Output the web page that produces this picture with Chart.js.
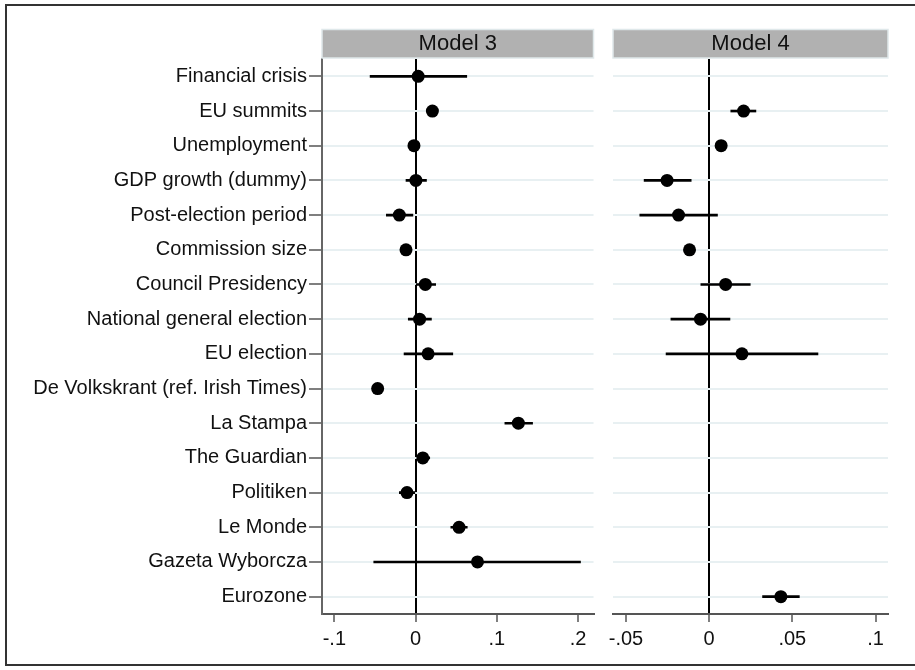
<!DOCTYPE html>
<html>
<head>
<meta charset="utf-8">
<script src="https://cdn.jsdelivr.net/npm/chart.js@4.4.0/dist/chart.umd.min.js"></script>
<style>
  body { margin: 0; background: #fff; }
  #wrap { position: relative; width: 915px; height: 670px; overflow: hidden; }
  #frame { position: absolute; left: 5px; top: 4px; width: 930px; height: 662px; border: 2px solid #333; box-sizing: border-box; }
  #c3 { position: absolute; left: 0; top: 0; }
  #c4 { position: absolute; left: 600px; top: 0; }
</style>
</head>
<body>
<div id="wrap">
  <div id="frame"></div>
  <canvas id="c3" width="600" height="670"></canvas>
  <canvas id="c4" width="315" height="670"></canvas>
</div>
<script>
const variables = [
    'Financial crisis', 'EU summits', 'Unemployment', 'GDP growth (dummy)',
    'Post-election period', 'Commission size', 'Council Presidency',
    'National general election', 'EU election', 'De Volkskrant (ref. Irish Times)',
    'La Stampa', 'The Guardian', 'Politiken', 'Le Monde', 'Gazeta Wyborcza', 'Eurozone'
];

// Model 3 estimates and 95% CI bounds
const m3Coef = [0.0032, 0.0207, -0.002, 0.0004, -0.020, -0.0118, 0.012, 0.0049, 0.0154, -0.0467, 0.1265, 0.0089, -0.0106, 0.0535, 0.0762, null];
const m3Low  = [-0.056, 0.0175, -0.005, -0.0118, -0.036, -0.0145, 0.0008, -0.009, -0.0142, -0.0495, 0.1099, 0.003, -0.020, 0.0434, -0.0515, null];
const m3High = [0.063, 0.024, 0.001, 0.0134, -0.0033, -0.009, 0.0247, 0.0195, 0.0458, -0.044, 0.144, 0.0174, -0.001, 0.0636, 0.203, null];

// Model 4 estimates and 95% CI bounds
const m4Coef = [null, 0.0207, 0.0072, -0.0253, -0.0184, -0.0118, 0.0099, -0.0052, 0.0197, null, null, null, null, null, null, 0.0431];
const m4Low  = [null, 0.013, 0.0055, -0.0391, -0.0417, -0.0135, -0.005, -0.023, -0.0259, null, null, null, null, null, null, 0.0321];
const m4High = [null, 0.0281, 0.009, -0.0108, 0.005, -0.010, 0.0247, 0.0125, 0.0654, null, null, null, null, null, null, 0.0542];

const m3Ticks = [-0.1, 0, 0.1, 0.2];
const m3TickLabels = ['-.1', '0', '.1', '.2'];
const m4Ticks = [-0.05, 0, 0.05, 0.1];
const m4TickLabels = ['-.05', '0', '.05', '.1'];

const FONT = 'Liberation Sans, Arial, sans-serif';

// gray strip with the model name above the plot area
const stripPlugin = {
    id: 'strip',
    afterDraw(chart, args, opts) {
        const ctx = chart.ctx;
        const a = chart.chartArea;
        ctx.save();
        ctx.fillStyle = '#b1b1b1';
        ctx.fillRect(a.left, 29.5, a.right - a.left, 28.5);
        ctx.strokeStyle = '#dfe8ea';
        ctx.lineWidth = 1.5;
        ctx.strokeRect(a.left, 29.5, a.right - a.left, 28.5);
        ctx.fillStyle = '#111';
        ctx.font = '22px ' + FONT;
        ctx.textAlign = 'center';
        ctx.textBaseline = 'middle';
        ctx.fillText(opts.text, (a.left + a.right) / 2, 44);
        ctx.restore();
    }
};

function makeChart(id, title, coef, low, high, ticks, tickLabels, xMin, xMax, showLabels, padding) {
    const ctx = document.getElementById(id).getContext('2d');
    return new Chart(ctx, {
        type: 'bar',
        data: {
            labels: variables,
            datasets: [{
                type: 'line',
                data: coef.map((v, i) => ({ x: v, y: variables[i] })),
                showLine: false,
                pointRadius: 6.5,
                pointBackgroundColor: '#000',
                pointBorderColor: '#000',
                pointBorderWidth: 0,
                order: 0
            }, {
                data: low.map((v, i) => v === null ? null : [v, high[i]]),
                backgroundColor: '#000',
                barThickness: 2,
                order: 1
            }]
        },
        options: {
            indexAxis: 'y',
            responsive: false,
            animation: false,
            layout: { padding: padding },
            plugins: {
                legend: { display: false },
                tooltip: { enabled: false },
                strip: { text: title }
            },
            scales: {
                x: {
                    type: 'linear',
                    min: xMin,
                    max: xMax,
                    afterBuildTicks: axis => { axis.ticks = ticks.map(v => ({ value: v })); },
                    afterFit: axis => { axis.height = 56; },
                    ticks: {
                        color: '#111',
                        font: { family: FONT, size: 20 },
                        padding: 5,
                        maxRotation: 0,
                        callback: (v) => tickLabels[ticks.indexOf(v)]
                    },
                    grid: {
                        color: c => c.tick && c.tick.value === 0 ? '#000' : 'rgba(0,0,0,0)',
                        lineWidth: 2,
                        tickColor: '#555',
                        tickLength: 8,
                        tickWidth: 1.5
                    },
                    border: { color: '#555', width: 2 }
                },
                y: {
                    type: 'category',
                    offset: true,
                    afterFit: axis => { axis.width = showLabels ? 322 : 0; },
                    ticks: {
                        display: showLabels,
                        color: '#111',
                        font: { family: FONT, size: 20 },
                        padding: 2
                    },
                    grid: {
                        offset: false,
                        color: '#e8f0f2',
                        lineWidth: 2,
                        drawTicks: showLabels,
                        tickColor: '#555',
                        tickLength: 13,
                        tickWidth: 1.5
                    },
                    border: { display: showLabels, color: '#666', width: 2 }
                }
            }
        },
        plugins: [stripPlugin]
    });
}

makeChart('c3', 'Model 3', m3Coef, m3Low, m3High, m3Ticks, m3TickLabels,
    -0.1152, 0.219, true, { top: 59, right: 3, left: 0, bottom: 0 });
makeChart('c4', 'Model 4', m4Coef, m4Low, m4High, m4Ticks, m4TickLabels,
    -0.0578, 0.1075, false, { top: 59, right: 27, left: 13, bottom: 0 });
</script>
</body>
</html>
